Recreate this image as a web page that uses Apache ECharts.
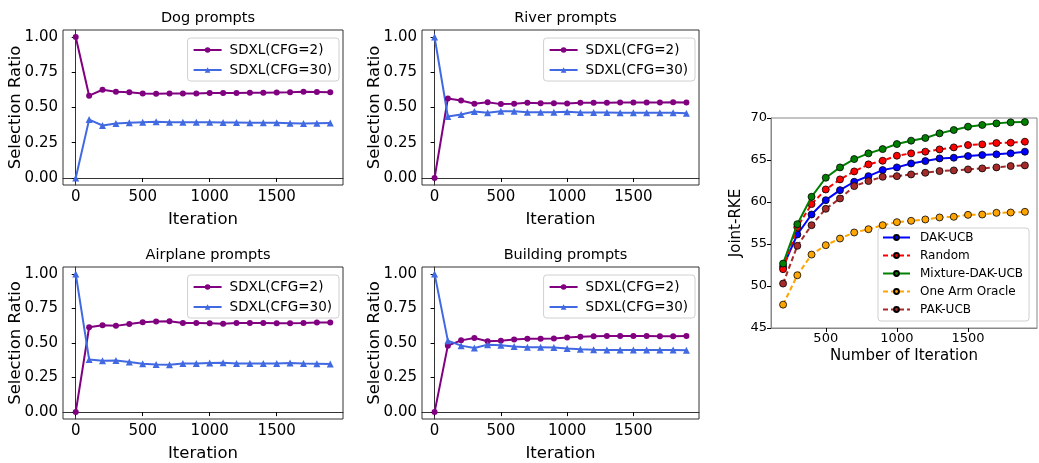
<!DOCTYPE html>
<html>
<head>
<meta charset="utf-8">
<script src="https://cdn.jsdelivr.net/npm/echarts@6/dist/echarts.min.js"></script>
<style>
html,body{margin:0;padding:0;background:#fff;}
#chart{width:1039px;height:463px;}
</style>
</head>
<body>
<div id="chart"></div>
<script>
// ---------- data ----------
const iterations = [0,100,200,300,400,500,600,700,800,900,1000,1100,1200,1300,1400,1500,1600,1700,1800,1900];

const dogCfg2  = [1.0,0.584,0.626,0.612,0.608,0.600,0.598,0.600,0.600,0.600,0.603,0.603,0.603,0.605,0.605,0.607,0.609,0.612,0.610,0.608];
const dogCfg30 = [0.0,0.414,0.372,0.386,0.391,0.396,0.398,0.396,0.396,0.396,0.395,0.394,0.393,0.392,0.392,0.391,0.389,0.386,0.388,0.390];

const riverCfg2  = [0.0,0.564,0.550,0.526,0.538,0.524,0.526,0.533,0.531,0.531,0.529,0.533,0.533,0.533,0.536,0.536,0.536,0.536,0.538,0.536];
const riverCfg30 = [1.0,0.436,0.450,0.472,0.462,0.474,0.474,0.467,0.467,0.467,0.469,0.465,0.465,0.465,0.463,0.463,0.463,0.462,0.462,0.460];

const airplaneCfg2  = [0.0,0.614,0.629,0.624,0.638,0.650,0.655,0.657,0.645,0.645,0.643,0.640,0.645,0.645,0.645,0.643,0.643,0.645,0.648,0.648];
const airplaneCfg30 = [1.0,0.381,0.371,0.374,0.362,0.350,0.345,0.343,0.352,0.352,0.355,0.357,0.352,0.352,0.352,0.352,0.355,0.352,0.350,0.348];

const buildingCfg2  = [0.0,0.481,0.519,0.536,0.512,0.517,0.526,0.531,0.531,0.533,0.540,0.545,0.548,0.550,0.550,0.550,0.550,0.548,0.548,0.550];
const buildingCfg30 = [1.0,0.517,0.481,0.464,0.488,0.483,0.474,0.469,0.469,0.467,0.460,0.455,0.452,0.450,0.450,0.450,0.450,0.450,0.450,0.448];

const rkeIterations = [200,300,400,500,600,700,800,900,1000,1100,1200,1300,1400,1500,1600,1700,1800,1900];
const dakUcb     = [52.30,56.13,58.51,60.22,61.41,62.41,63.08,63.80,64.12,64.59,64.87,65.19,65.27,65.47,65.59,65.67,65.79,65.99];
const randomSel  = [52.00,57.00,59.75,61.49,62.69,63.64,64.48,64.91,65.51,65.79,65.99,66.26,66.50,66.78,66.86,67.02,67.06,67.18];
const mixtureDak = [52.67,57.36,60.62,62.89,64.12,65.11,65.79,66.30,66.90,67.30,67.62,68.17,68.57,68.97,69.17,69.36,69.48,69.52];
const oneArm     = [47.78,51.28,53.74,54.86,55.65,56.37,56.76,57.24,57.60,57.76,57.92,58.16,58.24,58.47,58.51,58.71,58.75,58.83];
const pakUcb     = [50.29,54.78,57.24,59.19,60.42,61.89,62.49,63.00,63.08,63.28,63.48,63.68,63.76,63.88,64.00,64.12,64.28,64.36];

const ratioTicks = [0, 0.25, 0.5, 0.75, 1.0];
const iterTicks = [0, 500, 1000, 1500];
const rkeIterTicks = [500, 1000, 1500];

const panels = [
  {title: 'Dog prompts',      a: dogCfg2,      b: dogCfg30},
  {title: 'River prompts',    a: riverCfg2,    b: riverCfg30},
  {title: 'Airplane prompts', a: airplaneCfg2, b: airplaneCfg30},
  {title: 'Building prompts', a: buildingCfg2, b: buildingCfg30}
];

// ---------- layout ----------
const FONT = 'DejaVu Sans';
const boxes = [
  {left: 63,  top: 30,  width: 280, height: 155},
  {left: 422, top: 30,  width: 277, height: 155},
  {left: 63,  top: 267, width: 280, height: 156},
  {left: 422, top: 267, width: 277, height: 156}
];
const rkeBox = {left: 771, top: 118, width: 266, height: 210};

const pair = (xs, ys) => xs.map((x, i) => [x, ys[i]]);

const grids = [], xAxes = [], yAxes = [], series = [], titles = [], legends = [];

function axisCommon(color) {
  return {
    axisLine: {show: true, lineStyle: {color: color, width: 1}},
    splitLine: {show: false},
    nameMoveOverlap: false
  };
}

panels.forEach((p, i) => {
  const b = boxes[i];
  grids.push({left: b.left, top: b.top, width: b.width, height: b.height, containLabel: false,
    show: true, borderColor: '#333', borderWidth: 1, backgroundColor: 'transparent'});
  xAxes.push(Object.assign(axisCommon('#333'), {
    type: 'value', gridIndex: i, min: -95, max: 1995,
    name: 'Iteration', nameLocation: 'middle', nameGap: 26,
    nameTextStyle: {fontFamily: FONT, fontSize: 16.5, color: '#000'},
    axisTick: {show: true, length: 4, lineStyle: {color: '#000'}, customValues: iterTicks},
    axisLabel: {show: true, margin: 5, fontFamily: FONT, fontSize: 15, color: '#000', customValues: iterTicks,
      formatter: v => String(v)}
  }));
  yAxes.push(Object.assign(axisCommon('#333'), {
    type: 'value', gridIndex: i, min: -0.05, max: 1.05,
    name: 'Selection Ratio', nameLocation: 'middle', nameGap: 39,
    nameTextStyle: {fontFamily: FONT, fontSize: 16.5, color: '#000'},
    axisTick: {show: true, length: 4, lineStyle: {color: '#000'}, customValues: ratioTicks},
    axisLabel: {show: true, margin: 5, fontFamily: FONT, fontSize: 15, color: '#000', customValues: ratioTicks,
      formatter: v => v.toFixed(2)}
  }));
  series.push({
    name: 'SDXL(CFG=2)', type: 'line', xAxisIndex: i, yAxisIndex: i,
    data: pair(iterations, p.a), symbol: 'circle', symbolSize: 6,
    lineStyle: {color: '#800080', width: 2}, itemStyle: {color: '#800080'},
    animation: false, silent: true, z: 3
  });
  series.push({
    name: 'SDXL(CFG=30)', type: 'line', xAxisIndex: i, yAxisIndex: i,
    data: pair(iterations, p.b), symbol: 'triangle', symbolSize: 7,
    lineStyle: {color: '#4169E1', width: 2}, itemStyle: {color: '#4169E1'},
    animation: false, silent: true, z: 3
  });
  titles.push({
    text: p.title, left: b.left + b.width / 2, top: b.top - 24, textAlign: 'center',
    textStyle: {fontFamily: FONT, fontSize: 14.5, fontWeight: 'normal', color: '#000'}
  });
  legends.push({
    orient: 'vertical', right: 1039 - (b.left + b.width) + 4, top: b.top + 8,
    data: ['SDXL(CFG=2)', 'SDXL(CFG=30)'],
    itemWidth: 28, itemHeight: 7, itemGap: 6,
    padding: [5, 7, 4, 5],
    borderColor: '#d0d0d0', borderWidth: 1, borderRadius: 3,
    backgroundColor: 'rgba(255,255,255,0.8)',
    selectedMode: false,
    textStyle: {fontFamily: FONT, fontSize: 13.5, color: '#000', lineHeight: 14, padding: [0, 0, 0, 3]}
  });
});

// right panel
const gi = 4;
grids.push({left: rkeBox.left, top: rkeBox.top, width: rkeBox.width, height: rkeBox.height, containLabel: false,
  show: true, borderColor: '#888', borderWidth: 1, backgroundColor: 'transparent'});
xAxes.push(Object.assign(axisCommon('#888'), {
  type: 'value', gridIndex: gi, min: 115, max: 1985,
  name: 'Number of Iteration', nameLocation: 'middle', nameGap: 21,
  nameTextStyle: {fontFamily: FONT, fontSize: 15, color: '#000'},
  axisTick: {show: true, length: 4, lineStyle: {color: '#000'}, customValues: rkeIterTicks},
  axisLabel: {show: true, margin: 4, fontFamily: FONT, fontSize: 13, color: '#000', customValues: rkeIterTicks,
    formatter: v => String(v)}
}));
yAxes.push(Object.assign(axisCommon('#888'), {
  type: 'value', gridIndex: gi, min: 45, max: 70, interval: 5,
  name: 'Joint-RKE', nameLocation: 'middle', nameGap: 27,
  nameTextStyle: {fontFamily: FONT, fontSize: 15, color: '#000'},
  axisTick: {show: true, length: 4, lineStyle: {color: '#000'}},
  axisLabel: {show: true, margin: 4, fontFamily: FONT, fontSize: 13, color: '#000'}
}));

const rkeSeries = [
  {name: 'DAK-UCB',          data: dakUcb,     color: '#0000ff', dash: 'solid'},
  {name: 'Random',           data: randomSel,  color: '#ff0000', dash: [5, 3]},
  {name: 'Mixture-DAK-UCB',  data: mixtureDak, color: '#008000', dash: 'solid'},
  {name: 'One Arm Oracle',   data: oneArm,     color: '#ffa500', dash: [5, 3]},
  {name: 'PAK-UCB',          data: pakUcb,     color: '#a52a2a', dash: [5, 3]}
];
rkeSeries.forEach((s, k) => {
  series.push({
    name: s.name, type: 'line', xAxisIndex: gi, yAxisIndex: gi,
    data: pair(rkeIterations, s.data), symbol: 'circle', symbolSize: 7,
    lineStyle: {color: s.color, width: 2, type: s.dash},
    itemStyle: {color: s.color, borderColor: '#000', borderWidth: 0.8},
    animation: false, silent: true, z: 3 + k
  });
});
legends.push({
  orient: 'vertical', left: 878, top: 228,
  data: rkeSeries.map(s => s.name),
  itemWidth: 27, itemHeight: 6, itemGap: 5,
  padding: [3, 6, 5, 4],
  borderColor: '#d0d0d0', borderWidth: 1, borderRadius: 3,
  backgroundColor: 'rgba(255,255,255,0.8)',
  selectedMode: false,
  textStyle: {fontFamily: FONT, fontSize: 12, color: '#000', lineHeight: 13, padding: [0, 0, 0, 5]}
});

const chart = echarts.init(document.getElementById('chart'), null, {renderer: 'canvas'});
chart.setOption({
  backgroundColor: '#fff',
  animation: false,
  title: titles,
  legend: legends,
  grid: grids,
  xAxis: xAxes,
  yAxis: yAxes,
  series: series
});
</script>
</body>
</html>
